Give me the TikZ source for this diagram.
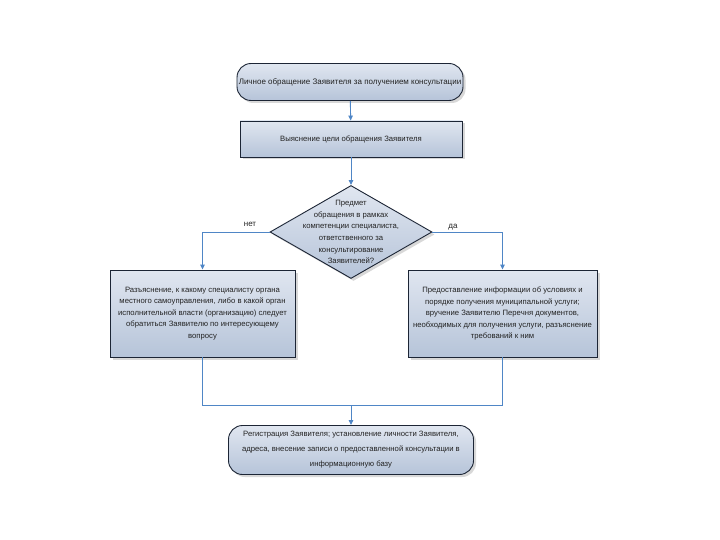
\documentclass[tikz,border=0pt]{standalone}
\usepackage{fontspec}
\setmainfont{Liberation Sans}
\usetikzlibrary{shapes.geometric,shadows,arrows.meta}
\definecolor{connc}{HTML}{4F86C6}
\definecolor{fillA}{HTML}{E0E6F0}
\definecolor{fillB}{HTML}{B6C4D9}
\definecolor{edgec}{HTML}{1C2535}
\definecolor{txtc}{HTML}{222222}
\tikzset{
  box/.style={draw=edgec, line width=0.9pt, top color=fillA, bottom color=fillB,
    drop shadow={shadow xshift=2.5pt, shadow yshift=-2.5pt, fill=black!30},
    align=center, text=txtc, font=\fontsize{7.7}{11.5}\selectfont, inner sep=1pt},
  rbox/.style={box, rounded corners=14pt},
  conn/.style={draw=connc, line width=0.9pt},
  arr/.style={conn, -{Triangle[length=5pt,width=4.5pt]}},
  lbl/.style={font=\fontsize{8}{9}\selectfont, text=txtc, inner sep=1pt}
}
\begin{document}
\begin{tikzpicture}[x=1pt,y=-1pt]
\useasboundingbox[fill=white] (0,0) rectangle (720,540);
\node[rbox, minimum width=226pt, minimum height=37pt, font=\fontsize{8}{10}\selectfont] (top) at (350,82)
  {Личное обращение Заявителя за получением консультации};
\node[box, minimum width=222pt, minimum height=36pt] (aim) at (351,139)
  {Выяснение цели обращения Заявителя};
\node[diamond, draw=edgec, line width=0.9pt, top color=fillA, bottom color=fillB,
  drop shadow={shadow xshift=2.5pt, shadow yshift=-2.5pt, fill=black!30},
  minimum width=162pt, minimum height=93pt, inner sep=0pt] (dia) at (351,232) {};
\node[align=center, text=txtc, font=\fontsize{7.7}{11.7}\selectfont, inner sep=0pt] (diatext) at (dia.center)
  {Предмет\\обращения в рамках\\компетенции специалиста,\\ответственного за\\консультирование\\Заявителей?};
\node[box, minimum width=185pt, minimum height=87pt] (left) at (202.5,313.5)
  {Разъяснение, к какому специалисту органа\\местного самоуправления, либо в какой орган\\исполнительной власти (организацию) следует\\обратиться Заявителю по интересующему\\вопросу};
\node[box, minimum width=189pt, minimum height=87pt] (right) at (502.5,313.5)
  {Предоставление информации об условиях и\\порядке получения муниципальной услуги;\\вручение Заявителю Перечня документов,\\необходимых для получения услуги, разъяснение\\требований к ним};
\node[rbox, minimum width=245pt, minimum height=49pt, font=\fontsize{7.7}{15}\selectfont] (bot) at (351,450)
  {Регистрация Заявителя; установление личности Заявителя,\\адреса, внесение записи о предоставленной консультации в\\информационную базу};
\coordinate (m) at (351,405);
\draw[arr] (top) -- (aim);
\draw[arr] (aim) -- (dia);
\draw[arr] (dia.west) -| (left.north);
\draw[arr] (dia.east) -| (right.north);
\node[lbl] (no) at (250,224) {нет};
\node[lbl] (yes) at (453,227) {да};
\draw[conn] (left.south) -- (left.south |- m) -- (right.south |- m) -- (right.south);
\draw[arr] (m) -- (bot);
\end{tikzpicture}
\end{document}
